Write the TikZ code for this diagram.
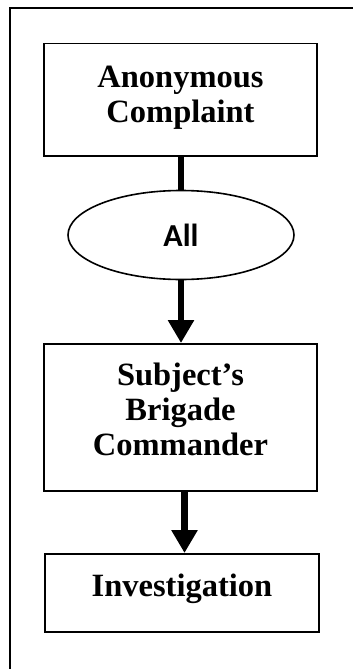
\documentclass[tikz,border=0pt]{standalone}
\usepackage{fontspec}
\setmainfont{Liberation Serif}
\newfontfamily\labelsans{Carlito}
\usetikzlibrary{shapes.geometric,arrows.meta}

\begin{document}
\begin{tikzpicture}[x=1pt,y=-1pt,
  stagebox/.style={draw, line width=1.5pt, inner sep=0pt, minimum width=273pt,
    align=center, font=\bfseries\fontsize{32.5}{35}\selectfont},
  gate/.style={draw, ellipse, line width=1.6pt, inner sep=0pt,
    minimum width=226pt, minimum height=89pt,
    font=\labelsans\bfseries\fontsize{32}{36}\selectfont},
  link/.style={line width=6.5pt},
  flow/.style={line width=6.5pt, -{Triangle[length=23pt,width=25pt]}}]
  \useasboundingbox (0,0) rectangle (353,669);

  % outer frame, running off the page on the right and bottom
  \draw[line width=2pt] (10,680) -- (10,8.5) -- (365,8.5);

  % multi-line boxes: text height/depth are measured from the last baseline
  \node[stagebox, text height=79pt, text depth=33pt, anchor=north] (complaint) at (180.5,43)
    {Anonymous\\Complaint};
  \node[gate] (all) at (181,235) {All};
  \node[stagebox, text height=112pt, text depth=35pt, anchor=north] (brigade) at (180.5,343)
    {Subject’s\\Brigade\\Commander};
  \node[stagebox, minimum width=274pt, text height=43pt, text depth=35pt, anchor=north] (invest) at (182,553)
    {Investigation};

  \coordinate (c1) at (181,0);
  \coordinate (c3) at (184.5,0);
  \draw[link] (complaint.south -| c1) -- (all.north -| c1);
  \draw[flow] (all.south -| c1) -- (brigade.north -| c1);
  \draw[flow] (brigade.south -| c3) -- (invest.north -| c3);
\end{tikzpicture}
\end{document}
